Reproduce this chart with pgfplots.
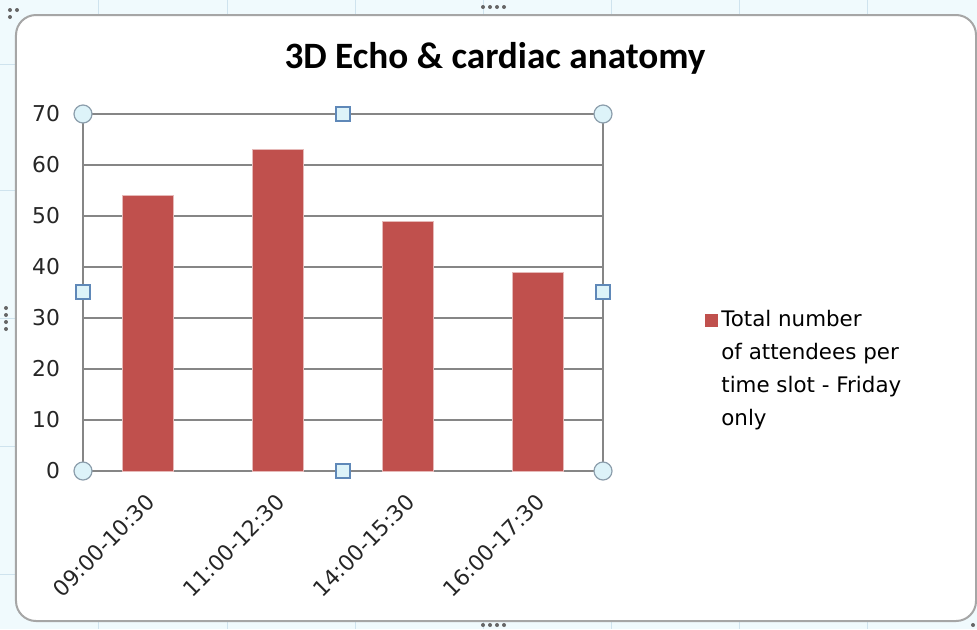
\documentclass[border=0pt]{standalone}
\usepackage{fontspec}
\setmainfont{DejaVu Sans}
\newfontfamily\titlefont{Carlito}
\usepackage{pgfplots}
\pgfplotsset{compat=1.18}
\definecolor{barred}{HTML}{C0504D}
\definecolor{gridgray}{HTML}{868686}
\definecolor{sheetbg}{HTML}{F0FAFD}
\definecolor{sheetline}{HTML}{CFE3EE}
\definecolor{handlefill}{HTML}{DDF3F9}
\definecolor{handledraw}{HTML}{8C9EAC}
\definecolor{squaredraw}{HTML}{5F88B8}
\begin{document}
\begin{tikzpicture}
% background and frame, in pixel units of the reference
\begin{scope}[x=0.5pt,y=-0.5pt,shift={(-83,-471)}]
  \useasboundingbox (0,0) rectangle (977,629);
  \fill[sheetbg] (0,0) rectangle (977,629);
  \foreach \X in {98,227,355,483,611,739,867} \draw[sheetline] (\X,0) -- (\X,629);
  \foreach \Y in {64,190,318,446,574} \draw[sheetline] (0,\Y) -- (977,\Y);
  \draw[gray!70, line width=1pt, fill=white, rounded corners=10pt] (16,15) rectangle (976,621);
  \node[font=\titlefont\bfseries\fontsize{18.6}{21}\selectfont, anchor=base, text=black] at (495,68) {3D Echo \& cardiac anatomy};
\end{scope}
\begin{axis}[
  ybar, scale only axis,
  width=260pt, height=178.5pt,
  xmin=-0.5, xmax=3.5, ymin=0, ymax=70,
  ytick={0,10,...,70}, xtick={0,1,2,3},
  xticklabels={09:00-10:30,11:00-12:30,14:00-15:30,16:00-17:30},
  x tick label style={rotate=45, anchor=north east, xshift=-5pt, yshift=-3pt},
  ymajorgrids, grid style={gridgray, line width=0.75pt},
  axis line style={gridgray, line width=0.75pt},
  major tick length=0pt,
  tick label style={font=\fontsize{10.9}{12}\selectfont, text=black!85},
  /pgf/number format/assume math mode=true,
  yticklabel style={xshift=-8pt},
  legend style={at={(1.183,0.286)}, anchor=west, draw=none, fill=none,
    font=\fontsize{10.7}{16.5}\selectfont, cells={align=left}},
  legend image code/.code={\fill[barred] (0pt,21.5pt) rectangle (6pt,27.5pt);},
]
\addplot[fill=barred, draw=barred!40!white, line width=0.4pt, bar width=0.39]
  coordinates {(0,54) (1,63) (2,49) (3,39)};
\addlegendentry{Total number\\of attendees per\\time slot - Friday\\only}
\end{axis}
% selection handles of the plot area
\begin{scope}[x=0.5pt,y=-0.5pt,shift={(-83,-471)}]
  \foreach \X/\Y in {83/114,603/114,83/471,603/471}
    \draw[handledraw, fill=handlefill, line width=0.6pt] (\X,\Y) circle[radius=4.5pt];
  \foreach \X/\Y in {343/114,343/471,83/292,603/292}
    \draw[squaredraw, fill=handlefill, line width=0.6pt] (\X-7,\Y-7) rectangle (\X+7,\Y+7);
  \foreach \X/\Y in {10/10,17/10,10/17,483/7,490/7,497/7,504/7,483/625,490/625,497/625,504/625,6/308,6/315,6/322,6/329,973/625}
    \fill[gray!80!black] (\X,\Y) circle[radius=1pt];
\end{scope}
\end{tikzpicture}
\end{document}
